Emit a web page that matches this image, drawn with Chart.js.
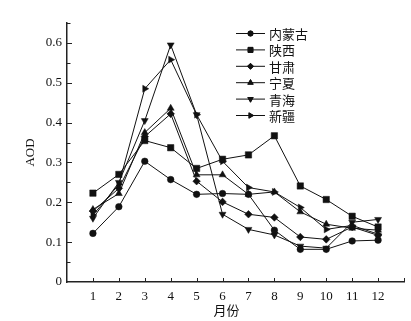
<!DOCTYPE html>
<html>
<head>
<meta charset="utf-8">
<script src="https://cdn.jsdelivr.net/npm/chart.js@4"></script>
<style>
html,body{margin:0;padding:0;background:#fff;}
canvas{display:block;}
</style>
</head>
<body>
<canvas id="c" width="411" height="321"></canvas>
<script>
const months = [1,2,3,4,5,6,7,8,9,10,11,12];
const seriesNames = ['内蒙古','陕西','甘肃','宁夏','青海','新疆'];
const neimenggu = [0.122,0.189,0.303,0.257,0.220,0.222,0.220,0.130,0.082,0.082,0.103,0.105];
const shaanxi   = [0.223,0.270,0.355,0.337,0.285,0.308,0.319,0.367,0.241,0.207,0.165,0.138];
const gansu     = [0.178,0.235,0.365,0.422,0.253,0.201,0.170,0.162,0.113,0.107,0.138,0.117];
const ningxia   = [0.182,0.222,0.375,0.436,0.269,0.269,0.220,0.226,0.176,0.145,0.135,0.130];
const qinghai   = [0.160,0.250,0.405,0.595,0.420,0.170,0.132,0.118,0.090,0.085,0.150,0.157];
const xinjiang  = [0.168,0.245,0.485,0.558,0.420,0.303,0.237,0.226,0.187,0.132,0.142,0.120];
const yTickValues = [0,0.1,0.2,0.3,0.4,0.5,0.6];
const xAxisTitle = '月份';
const yAxisTitle = 'AOD';

const seriesValues = [neimenggu, shaanxi, gansu, ningxia, qinghai, xinjiang];
const markerStyles = [
  {pointStyle:'circle', rotation:0, radius:3.3},
  {pointStyle:'rect', rotation:0, radius:4.5},
  {pointStyle:'rectRot', rotation:0, radius:3.8},
  {pointStyle:'triangle', rotation:0, radius:4},
  {pointStyle:'triangle', rotation:180, radius:4},
  {pointStyle:'triangle', rotation:90, radius:4}
];
const ink = '#111';
const serif = '"Liberation Serif", "DejaVu Serif", serif';
const cjk = '"Noto Sans CJK SC", sans-serif';

const datasets = seriesNames.map((name, i) => ({
  label: name,
  data: months.map((m, j) => ({x: m, y: seriesValues[i][j]})),
  borderColor: ink,
  backgroundColor: ink,
  pointBackgroundColor: ink,
  pointBorderColor: ink,
  borderWidth: 1,
  pointBorderWidth: 0.5,
  pointStyle: markerStyles[i].pointStyle,
  rotation: markerStyles[i].rotation,
  pointRadius: markerStyles[i].radius,
  tension: 0
}));

function drawMarker(ctx, st, x, y, r) {
  if (Chart.helpers && Chart.helpers.drawPoint) {
    Chart.helpers.drawPoint(ctx, {pointStyle: st.pointStyle, rotation: st.rotation, radius: r, borderWidth: 0.5}, x, y);
    ctx.fill();
  }
}

const decorPlugin = {
  id: 'decor',
  afterDraw(chart) {
    const ctx = chart.ctx;
    const xs = chart.scales.x, ys = chart.scales.y;
    const ca = chart.chartArea;
    ctx.save();
    ctx.strokeStyle = '#222';
    ctx.lineWidth = 1;
    // y ticks (inward), major + minor
    for (let k = 1; k <= 13; k++) {
      const v = k * 0.05;
      const y = Math.round(ys.getPixelForValue(v)) + 0.5;
      const len = (k % 2 === 0) ? 5 : 3.5;
      ctx.beginPath();
      ctx.moveTo(ca.left, y);
      ctx.lineTo(ca.left + len, y);
      ctx.stroke();
    }
    // x ticks (inward)
    for (let v = 1; v <= 13; v++) {
      const x = Math.round(xs.getPixelForValue(v)) + 0.5;
      ctx.beginPath();
      ctx.moveTo(x, ca.bottom);
      ctx.lineTo(x, ca.bottom - 4);
      ctx.stroke();
    }
    // axis titles
    ctx.fillStyle = ink;
    ctx.font = '13px ' + cjk;
    ctx.textAlign = 'center';
    ctx.textBaseline = 'middle';
    ctx.fillText(xAxisTitle, (ca.left + ca.right) / 2 - 9, ca.bottom + 28);
    ctx.save();
    ctx.translate(31, (ca.top + ca.bottom) / 2);
    ctx.rotate(-Math.PI / 2);
    ctx.font = '13px ' + serif;
    ctx.fillText(yAxisTitle, 0, 0);
    ctx.restore();
    // legend
    ctx.textAlign = 'left';
    ctx.font = '13px ' + cjk;
    chart.data.datasets.forEach((ds, i) => {
      const y = 33.5 + i * 16.4;
      ctx.strokeStyle = ink;
      ctx.lineWidth = 1;
      ctx.beginPath();
      ctx.moveTo(236, y);
      ctx.lineTo(265, y);
      ctx.stroke();
      ctx.fillStyle = ink;
      ctx.strokeStyle = ink;
      drawMarker(ctx, markerStyles[i], 250.5, y, markerStyles[i].radius * 0.8);
      ctx.fillStyle = ink;
      ctx.fillText(ds.label, 269, y + 0.5);
    });
    ctx.restore();
  }
};

new Chart(document.getElementById('c'), {
  type: 'line',
  data: {datasets},
  plugins: [decorPlugin],
  options: {
    responsive: false,
    animation: false,
    devicePixelRatio: 1,
    layout: {padding: {left: 0, top: 23, right: 7, bottom: 0}},
    plugins: {legend: {display: false}, tooltip: {enabled: false}},
    scales: {
      x: {
        type: 'linear',
        min: 0,
        max: 13,
        afterBuildTicks: s => { s.ticks = months.map(v => ({value: v})); },
        afterFit: s => { s.height = 39; },
        grid: {display: false, drawTicks: false},
        border: {display: true, color: '#222', width: 1.5},
        ticks: {color: ink, font: {family: serif, size: 13}, padding: 7, maxRotation: 0, autoSkip: false}
      },
      y: {
        min: 0,
        max: 0.65,
        afterBuildTicks: s => { s.ticks = yTickValues.map(v => ({value: v})); },
        afterFit: s => { s.width = 67; },
        grid: {display: false, drawTicks: false},
        border: {display: true, color: '#222', width: 1.5},
        ticks: {color: ink, font: {family: serif, size: 13}, padding: 5,
          callback: v => (v === 0 ? '0' : String(Math.round(v * 10) / 10))}
      }
    }
  }
});
</script>
</body>
</html>
